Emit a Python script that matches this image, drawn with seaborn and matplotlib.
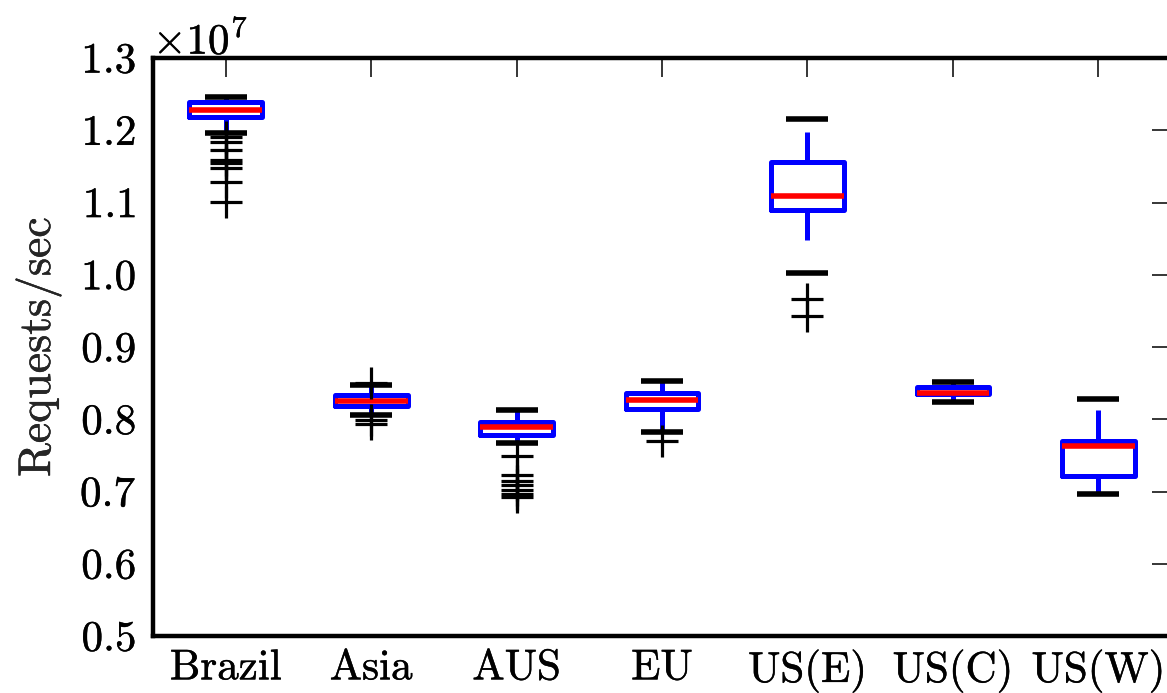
import numpy as np
import pandas as pd
import matplotlib
matplotlib.use("Agg")
import matplotlib.pyplot as plt
import matplotlib.patheffects as pe
from matplotlib.ticker import MultipleLocator
import seaborn as sns

SCALE = 1e7  # values below are read in units of 1e7 requests/sec

categories = ["Brazil", "Asia", "AUS", "EU", "US(E)", "US(C)", "US(W)"]
whisker_lo = [1.1958, 0.8059, 0.7667, 0.7828, 1.0481, 0.8245, 0.6965]
q1         = [1.2188, 0.8188, 0.7782, 0.8137, 1.0892, 0.8345, 0.7219]
median     = [1.2280, 0.8257, 0.7898, 0.8267, 1.1094, 0.8363, 0.7634]
q3         = [1.2387, 0.8336, 0.7958, 0.8359, 1.1560, 0.8443, 0.7704]
whisker_hi = [1.2465, 0.8474, 0.8128, 0.8534, 1.1980, 0.8510, 0.8128]
cap_lo     = [1.1958, 0.8059, 0.7667, 0.7828, 1.0028, 0.8245, 0.6965]
cap_hi     = [1.2465, 0.8474, 0.8128, 0.8534, 1.2151, 0.8510, 0.8280]
fliers = {
    "Brazil": [1.1900, 1.1842, 1.1727, 1.1590, 1.1540, 1.1480, 1.1288, 1.1003],
    "Asia": [0.8500, 0.7990, 0.7928],
    "AUS": [0.7496, 0.7228, 0.7145, 0.7090, 0.7021, 0.6966, 0.6924],
    "EU": [0.7700],
    "US(E)": [0.9660, 0.9429],
    "US(C)": [],
    "US(W)": [],
}

# five-number summaries -> 5-point samples (percentiles land exactly on them)
core_rows = []
for i, c in enumerate(categories):
    for v in (whisker_lo[i], q1[i], median[i], q3[i], whisker_hi[i]):
        core_rows.append({"region": c, "value": v * SCALE})
core = pd.DataFrame(core_rows)

cap_rows = []
for i, c in enumerate(categories):
    cap_rows.append({"region": c, "value": cap_lo[i] * SCALE})
    cap_rows.append({"region": c, "value": cap_hi[i] * SCALE})
caps = pd.DataFrame(cap_rows)

flier_rows = [{"region": c, "value": v * SCALE} for c in categories for v in fliers[c]]
flier_df = pd.DataFrame(flier_rows)

sns.set_style("white")
plt.rcParams["font.family"] = ["cmr10", "DejaVu Serif"]
plt.rcParams["mathtext.fontset"] = "cm"
plt.rcParams["axes.formatter.use_mathtext"] = True
plt.rcParams["axes.unicode_minus"] = False

fig = plt.figure(figsize=(11.67, 6.93), dpi=100)
ax = fig.add_axes([153 / 1167, 57 / 693, 1018 / 1167, 578 / 693])

LW = 3.6
sns.boxplot(
    data=core, x="region", y="value", order=categories, ax=ax,
    width=0.5, whis=(0, 100), fill=False, color="blue", saturation=1,
    linewidth=LW, showcaps=False, showfliers=False,
    boxprops=dict(color="blue", linewidth=LW),
    whiskerprops=dict(color="blue", linewidth=LW),
    medianprops=dict(color="red", linewidth=LW + 0.4),
)

sns.stripplot(
    data=caps, x="region", y="value", order=categories, ax=ax,
    jitter=False, marker="_", size=30, linewidth=4.0, color="black", zorder=4,
)
sns.stripplot(
    data=flier_df, x="region", y="value", order=categories, ax=ax,
    jitter=False, marker="+", size=23, linewidth=2.3, color="black", zorder=4,
)

ax.set_xlim(-0.5, len(categories) - 0.5)
ax.set_ylim(0.5 * SCALE, 1.3 * SCALE)
ax.yaxis.set_major_locator(MultipleLocator(0.1 * SCALE))
ax.set_xlabel("")
ax.set_ylabel("Requests/sec", fontsize=33, labelpad=13)

for sp in ax.spines.values():
    sp.set_visible(True)
    sp.set_linewidth(3.2)
    sp.set_color("black")

ax.tick_params(axis="both", which="major", direction="in", length=14, width=1.1,
               top=True, right=True, labelsize=31, colors="black")
ax.tick_params(axis="x", pad=10)
ax.tick_params(axis="y", pad=12)
ax.yaxis.get_offset_text().set_fontsize(31)

fig.canvas.draw()
stroke = [pe.withStroke(linewidth=0.3, foreground="black")]
for t in ax.get_xticklabels() + ax.get_yticklabels() + [ax.yaxis.label, ax.yaxis.get_offset_text()]:
    t.set_path_effects(stroke)

fig.savefig("out.png", dpi=100)
